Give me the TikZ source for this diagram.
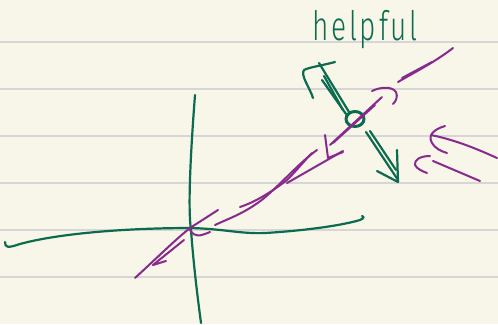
\documentclass[tikz,border=0pt]{standalone}
\usepackage{fontspec}
\newfontfamily\handfont[LetterSpace=10]{Fira Sans Light}
\definecolor{paper}{HTML}{F8F5E9}
\definecolor{rule}{HTML}{D6D6D6}
\definecolor{pen}{HTML}{0B6B4E}
\definecolor{ink}{HTML}{882A8C}
\tikzset{
  gpen/.style={draw=pen,line width=2.2pt,line cap=round,line join=round},
  ppen/.style={draw=ink,line width=2pt,line cap=round,line join=round},
  ruled/.style={draw=rule,line width=1.4pt}
}
\begin{document}
\begin{tikzpicture}[x=1pt,y=-1pt]
\fill[paper] (0,0) rectangle (498,324);
\useasboundingbox (0,0) rectangle (498,324);
% ruled lines
\foreach \yy in {42,89,136,183,230,277}
  \draw[ruled] (0,\yy) -- (498,\yy);

% axes
\draw[gpen] (195,95) .. controls (190,160) and (188,210) .. (191,230) .. controls (194,270) and (198,300) .. (201,323);
\draw[gpen] (5,242) .. controls (5,248) and (8,248) .. (20,244) .. controls (60,233) and (130,228) .. (191,228)
  .. controls (225,229) and (240,234) .. (265,233) .. controls (300,231) and (340,226) .. (360,220) .. controls (365,218) and (364,216) .. (362,216);

% helpful text
\node[text=pen,font=\handfont\fontsize{28}{28}\selectfont,yscale=1.45] (lbl) at (365,30) {helpful};

% green circle
\draw[gpen,line width=3pt] (355,119) ellipse [x radius=9,y radius=7.5];
% up-left green arrow
\draw[gpen] (349,112) -- (319,63);
\draw[gpen] (346,114) -- (322,80);
\draw[gpen] (343,110) -- (324,76);
\draw[gpen] (313,98) .. controls (310,88) and (300,75) .. (304,70) .. controls (310,67) and (320,66) .. (335,62);
% down-right green arrow
\draw[gpen] (366,132) -- (398,180);
\draw[gpen] (370,131) -- (396,170);
\draw[gpen] (377,171) -- (398,182) -- (397,150);

% purple main line strokes
\draw[ppen] (135,278) .. controls (160,255) and (175,240) .. (190,228) -- (218,210);
\draw[ppen] (153,265) -- (184,240);
\draw[ppen] (153,265) -- (166,261);
\draw[ppen] (190,230) .. controls (195,238) and (200,236) .. (210,232);
\draw[ppen] (215,225) .. controls (230,218) and (245,213) .. (263,199) .. controls (280,185) and (300,162) .. (317,150);
\draw[ppen] (240,207) .. controls (255,202) and (270,193) .. (287,180) .. controls (297,170) and (305,160) .. (312,153);
\draw[ppen] (287,183) -- (343,151);
\draw[ppen] (330,145) -- (382,97);
\draw[ppen] (333,143) -- (375,105);
\draw[ppen] (325,135) -- (328,158) -- (343,152);
\draw[ppen] (372,91) .. controls (380,87) and (392,86) .. (396,92) .. controls (398,97) and (396,101) .. (393,104);
\draw[ppen] (398,82) .. controls (415,72) and (435,62) .. (453,48);
\draw[ppen] (402,78) -- (432,62);

% right purple arrows
\draw[ppen] (497,158) .. controls (475,148) and (455,140) .. (431,135);
\draw[ppen] (445,126) .. controls (432,130) and (428,136) .. (432,143) .. controls (435,148) and (440,151) .. (447,153);
\draw[ppen] (480,181) -- (433,161);
\draw[ppen] (430,156) .. controls (420,156) and (414,160) .. (415,165) .. controls (417,169) and (422,171) .. (427,173);
\end{tikzpicture}
\end{document}
